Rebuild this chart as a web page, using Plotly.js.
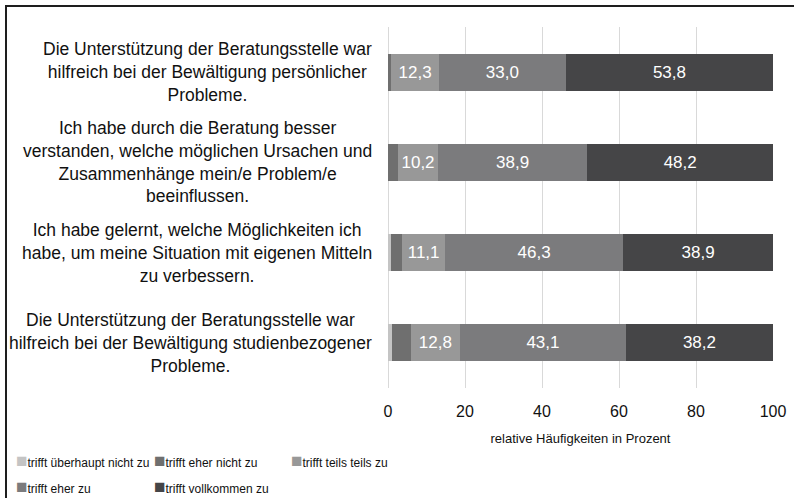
<!DOCTYPE html>
<html>
<head>
<meta charset="utf-8">
<script src="https://cdn.plot.ly/plotly-3.0.1.min.js"></script>
<style>html,body{margin:0;padding:0;background:#fff;}</style>
</head>
<body>
<div id="chart" style="width:794px;height:498px;"></div>
<script>
const categories = [
  "Die Unterstützung der Beratungsstelle war<br>hilfreich bei der Bewältigung persönlicher<br>Probleme.",
  "Ich habe durch die Beratung besser<br>verstanden, welche möglichen Ursachen und<br>Zusammenhänge mein/e Problem/e<br>beeinflussen.",
  "Ich habe gelernt, welche Möglichkeiten ich<br>habe, um meine Situation mit eigenen Mitteln<br>zu verbessern.",
  "Die Unterstützung der Beratungsstelle war<br>hilfreich bei der Bewältigung studienbezogener<br>Probleme."
];
const seriesNames = ["trifft überhaupt nicht zu", "trifft eher nicht zu", "trifft teils teils zu", "trifft eher zu", "trifft vollkommen zu"];
const ueberhauptNicht = [0.0, 0.0, 0.9, 1.0];
const eherNicht = [0.9, 2.7, 2.8, 4.9];
const teilsTeils = [12.3, 10.2, 11.1, 12.8];
const eherZu = [33.0, 38.9, 46.3, 43.1];
const vollkommen = [53.8, 48.2, 38.9, 38.2];
const xTicks = [0, 20, 40, 60, 80, 100];
const colors = ["#c4c4c4", "#6f6f6f", "#989898", "#7b7b7d", "#454547"];

const allSeries = [ueberhauptNicht, eherNicht, teilsTeils, eherZu, vollkommen];
const labelFont = "Liberation Sans, Arial, sans-serif";

const W = 794, H = 498;
const M = {l: 388, r: 21, t: 27, b: 110};
const pw = W - M.l - M.r, ph = H - M.t - M.b;
const px2x = p => (p - M.l) / pw;
const py2y = p => 1 - (p - M.t) / ph;

const traces = allSeries.map((vals, i) => ({
  type: "bar",
  orientation: "h",
  name: seriesNames[i],
  x: vals,
  y: categories,
  marker: {color: colors[i], line: {width: 0}},
  text: vals.map(v => v >= 5 ? v.toFixed(1).replace(".", ",") : ""),
  textposition: "inside",
  insidetextanchor: "middle",
  constraintext: "none",
  textfont: {color: "#ffffff", size: 17, family: labelFont},
  hoverinfo: "x+name",
  showlegend: false
}));

const annotations = categories.map(c => ({
  xref: "paper", yref: "y",
  x: px2x(374), y: c,
  xanchor: "right", yanchor: "middle",
  align: "center",
  text: c,
  showarrow: false,
  font: {size: 17.5, family: labelFont, color: "#111111"}
}));

// legend entries (two rows, as in the original)
const legendPos = [[15, 460], [153, 460], [290, 460], [15, 486], [153, 486]];
seriesNames.forEach((n, i) => {
  annotations.push({
    xref: "paper", yref: "paper",
    x: px2x(legendPos[i][0]), y: py2y(legendPos[i][1]),
    xanchor: "left", yanchor: "middle", align: "left",
    text: '<span style="color:' + colors[i] + ';font-size:19px">■</span>' + n,
    showarrow: false, borderpad: 0,
    font: {size: 12, family: labelFont, color: "#111111"}
  });
});

const layout = {
  width: W, height: H,
  margin: Object.assign({autoexpand: false}, M),
  paper_bgcolor: "#ffffff", plot_bgcolor: "#ffffff",
  barmode: "stack",
  bargap: 0.59,
  separators: ",.",
  showlegend: false,
  xaxis: {
    range: [0, 100],
    tickvals: xTicks,
    ticktext: xTicks.map(String),
    showgrid: true, gridcolor: "#d9d9d9", gridwidth: 1,
    zeroline: true, zerolinecolor: "#d9d9d9", zerolinewidth: 1,
    showline: false, ticks: "",
    ticklabelstandoff: 12,
    tickfont: {size: 16, family: labelFont, color: "#111111"},
    title: {text: "relative Häufigkeiten in Prozent", font: {size: 13, family: labelFont, color: "#111111"}, standoff: 14},
    automargin: false,
    fixedrange: true
  },
  yaxis: {
    type: "category",
    categoryorder: "array", categoryarray: categories,
    autorange: "reversed",
    showticklabels: false, showgrid: false, zeroline: false, showline: false, ticks: "",
    automargin: false,
    fixedrange: true
  },
  annotations: annotations,
  shapes: [{
    type: "rect", xref: "paper", yref: "paper",
    x0: px2x(6), x1: px2x(820), y0: py2y(530), y1: py2y(6),
    line: {color: "#1e1e1e", width: 2}, fillcolor: "rgba(0,0,0,0)", layer: "above"
  }]
};

Plotly.newPlot("chart", traces, layout, {displayModeBar: false, staticPlot: true});
</script>
</body>
</html>
